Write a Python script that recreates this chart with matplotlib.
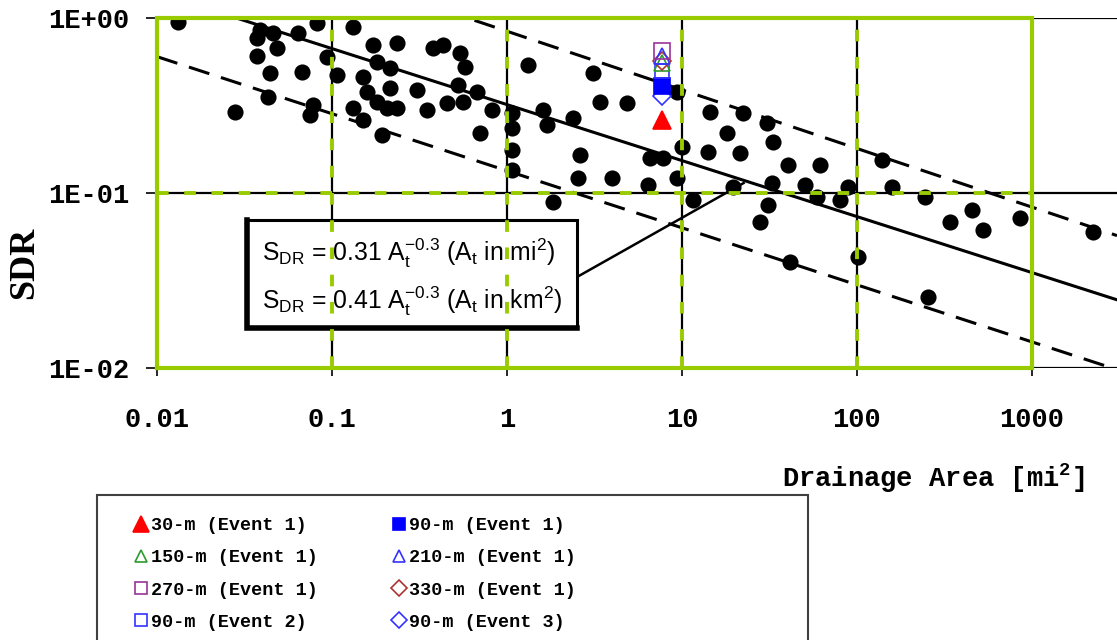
import numpy as np
import matplotlib
matplotlib.use('Agg')
import matplotlib.pyplot as plt
from matplotlib.patches import Rectangle
from matplotlib.font_manager import FontProperties

plt.rcParams['mathtext.default'] = 'regular'

# ---------------- data ----------------
area_mi2 = [0.0132, 0.0388, 0.0373, 0.046, 0.0485, 0.0373, 0.064, 0.082, 0.132, 0.0936,
            0.107, 0.0443, 0.0674, 0.043, 0.0778, 0.0748, 0.0279, 0.171, 0.235, 0.181,
            0.150, 0.158, 0.181, 0.214, 0.214, 0.206, 0.235, 0.132, 0.150, 0.193,
            0.306, 0.349, 0.378, 0.430, 0.538, 0.575, 0.525, 0.674, 0.454, 0.561,
            0.82, 0.70, 1.07, 1.07, 1.07, 1.07, 1.32, 3.10, 3.40, 4.85,
            1.61, 1.69, 2.38, 2.61, 2.55, 3.98, 6.56, 7.79, 6.39, 9.36,
            10.0, 9.36, 1.83, 14.5, 22.3, 18.1, 30.6, 33.1, 14.1, 21.4,
            40.4, 61.5, 139, 11.6, 19.6, 32.7, 31.0, 27.9, 50.5, 59.1,
            80, 88.9, 158, 41.4, 101, 245, 340, 454, 525, 854,
            2230, 255]
sdr = [0.95, 0.85, 0.77, 0.82, 0.67, 0.61, 0.82, 0.94, 0.89, 0.60,
       0.47, 0.485, 0.49, 0.354, 0.318, 0.279, 0.290, 0.70, 0.72, 0.56,
       0.46, 0.378, 0.331, 0.518, 0.398, 0.306, 0.306, 0.306, 0.261, 0.214,
       0.388, 0.298, 0.67, 0.70, 0.63, 0.525, 0.414, 0.378, 0.327, 0.331,
       0.298, 0.220, 0.287, 0.235, 0.176, 0.135, 0.54, 0.485, 0.331, 0.327,
       0.298, 0.245, 0.268, 0.165, 0.122, 0.122, 0.158, 0.158, 0.111, 0.122,
       0.183, 0.378, 0.089, 0.290, 0.287, 0.220, 0.251, 0.196, 0.172, 0.169,
       0.145, 0.145, 0.154, 0.091, 0.108, 0.114, 0.0854, 0.0683, 0.111, 0.0949,
       0.091, 0.108, 0.108, 0.0403, 0.0431, 0.0949, 0.0683, 0.080, 0.0615, 0.072,
       0.0598, 0.0255]

# model results for the study watershed
model_area = 7.7
model_labels = ['30-m (Event 1)', '90-m (Event 1)', '150-m (Event 1)', '210-m (Event 1)',
                '270-m (Event 1)', '330-m (Event 1)', '90-m (Event 2)', '90-m (Event 3)']
model_sdr = [0.26, 0.41, 0.55, 0.61, 0.65, 0.57, 0.50, 0.36]

# fitted relation and envelope lines: coefficient, exponent
fit_line = (0.32, -0.32)
upper_line = (0.84, -0.335)
lower_line = (0.134, -0.326)

xticks = [0.01, 0.1, 1, 10, 100, 1000]
xtick_labels = ['0.01', '0.1', '1', '10', '100', '1000']
yticks = [1, 0.1, 0.01]
ytick_labels = ['1E+00', '1E-01', '1E-02']

# ---------------- figure ----------------
W, H = 1117, 640
fig = plt.figure(figsize=(W / 100, H / 100), dpi=100)
ax = fig.add_axes([157 / W, (H - 368) / H, 960 / W, 350 / H])
ax.set_xscale('log')
ax.set_yscale('log')
xmax = 10 ** ((1117 - 157) / 175 - 2)
ax.set_xlim(0.01, xmax)
ax.set_ylim(0.01, 1)
for s in ax.spines.values():
    s.set_visible(False)

GREEN = '#99cc00'
mono = FontProperties(family='Liberation Mono', weight='bold', size=19.5)

# black grid
for yv in yticks:
    ax.axhline(yv, color='black', lw=1.6, zorder=1)
for xv in xticks:
    ax.axvline(xv, color='black', lw=1.6, zorder=1)

# regression lines
xx = np.logspace(-2, np.log10(xmax), 300)
ax.plot(xx, fit_line[0] * xx ** fit_line[1], color='black', lw=2.2, zorder=2)
for c, e in (upper_line, lower_line):
    ax.plot(xx, c * xx ** e, color='black', lw=2.2, ls=(0, (7, 4)), zorder=2)

# observed points
ax.scatter(area_mi2, sdr, s=135, color='black', zorder=3, linewidths=0)

# equation box
bx0, bx1 = (247 - 157) / 960, (577 - 157) / 960
by0, by1 = (368 - 328) / 350, (368 - 220) / 350
ax.add_patch(Rectangle((bx0, by0), bx1 - bx0, by1 - by0, transform=ax.transAxes,
                       facecolor='white', edgecolor='black', lw=2.2, zorder=3.5))
ax.plot([bx0, bx0, bx1], [by1, by0, by0], transform=ax.transAxes, color='black',
        lw=4, zorder=3.6, solid_joinstyle='miter')
ax.plot([10 ** ((577 - 157) / 175 - 2), 22.5], [10 ** (-(277 - 18) / 175), 0.114],
        color='black', lw=1.8, zorder=2)
sans = dict(family='Liberation Sans', fontsize=17.8, zorder=6, va='center', ha='left',
            transform=ax.transAxes)
ax.text((262 - 157) / 960, (368 - 253) / 350,
        r'S$_{DR}$ = 0.31 A$_t^{-0.3}$ (A$_t$ in mi$^2$)', **sans)
ax.text((262 - 157) / 960, (368 - 301) / 350,
        r'S$_{DR}$ = 0.41 A$_t^{-0.3}$ (A$_t$ in km$^2$)', **sans)

# green frame and dashed grid
ax.plot([0.01, 1000, 1000, 0.01, 0.01], [0.01, 0.01, 1, 1, 0.01], color=GREEN, lw=3,
        zorder=5, clip_on=False, solid_joinstyle='miter')
for xv in xticks[1:-1]:
    ax.plot([xv, xv], [0.01, 1], color=GREEN, lw=2.8, ls=(0, (3, 4)), zorder=5)
ax.plot([0.01, 1000], [0.1, 0.1], color=GREEN, lw=2.8, ls=(0, (3, 4)), zorder=5)

# model points
styles = {
    '30-m (Event 1)': dict(marker='^', ms=13, mfc='#ff0000', mec='#ff0000'),
    '90-m (Event 3)': dict(marker='D', ms=9, mfc='none', mec='#3333ff'),
    '90-m (Event 1)': dict(marker='s', ms=11, mfc='#0000ff', mec='#0000ff'),
    '90-m (Event 2)': dict(marker='s', ms=10, mfc='none', mec='#3333ff'),
    '150-m (Event 1)': dict(marker='^', ms=11, mfc='none', mec='#2e9a2e'),
    '330-m (Event 1)': dict(marker='D', ms=9, mfc='none', mec='#aa3333'),
    '210-m (Event 1)': dict(marker='^', ms=11, mfc='none', mec='#3333ff'),
    '270-m (Event 1)': dict(marker='s', ms=11, mfc='none', mec='#993399'),
}
handles = {}
for lab in styles:
    val = model_sdr[model_labels.index(lab)]
    h, = ax.plot([model_area], [val], ls='none', mew=1.2, zorder=7, label=lab,
                 **styles[lab])
    handles[lab] = h

# ticks
ax.set_xticks(xticks, labels=xtick_labels, fontproperties=mono)
ax.set_yticks(yticks, labels=ytick_labels, fontproperties=mono)
ax.minorticks_off()
ax.tick_params(axis='x', length=6, width=1.2, pad=22)
ax.tick_params(axis='y', length=8, width=1.2, pad=12)

fig.text(933 / W, 1 - 478 / H, 'Drainage Area [mi$^2$]', ha='center', va='center',
         fontproperties=mono)
fig.text(25 / W, 1 - 263 / H, 'SDR', rotation=90, ha='center', va='center',
         family='Liberation Serif', weight='bold', fontsize=26)

# legend
order = ['30-m (Event 1)', '150-m (Event 1)', '270-m (Event 1)', '90-m (Event 2)',
         '90-m (Event 1)', '210-m (Event 1)', '330-m (Event 1)', '90-m (Event 3)']
leg = fig.legend([handles[k] for k in order], order, ncol=2, loc='upper left',
                 bbox_to_anchor=(124 / W, 1 - 508 / H), frameon=False, borderpad=0,
                 handlelength=0.8, handletextpad=0.15, columnspacing=4.0,
                 labelspacing=0.82, markerscale=0.85,
                 prop=FontProperties(family='Liberation Mono', weight='bold', size=13.3))
fig.add_artist(Rectangle((97 / W, -6 / H), 711 / W, 151 / H, transform=fig.transFigure,
                         fill=False, edgecolor='#404040', lw=1.5))

fig.savefig('out.png', dpi=100)
